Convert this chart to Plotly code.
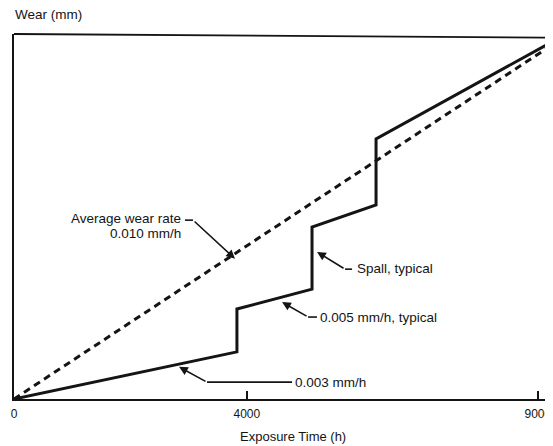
import plotly.graph_objects as go

# ---- data ----
time_h = [0, 3830, 3830, 5120, 5120, 6220, 6220, 9260]
wear_mm = [0, 12.3, 23.5, 28.7, 44.9, 50.7, 67.9, 93.4]
avg_time_h = [0, 9260]
avg_wear_mm = [0, 92.6]
x_tick_vals = [0, 4000, 9000]
x_tick_text = ["0", "4000", "9000"]

INK = "#141414"
FONT = "Liberation Sans, Arial, Helvetica, sans-serif"

# page body has an 8px default margin, so the figure is sized to fit the window
FIG_W, FIG_H = 545, 438
M_L, M_R, M_T, M_B = 6, 0, 26, 47
PLOT_W = FIG_W - M_L - M_R
PLOT_H = FIG_H - M_T - M_B

fig = go.Figure()
fig.add_trace(go.Scatter(x=avg_time_h, y=avg_wear_mm, mode="lines",
                         line=dict(color=INK, width=3, dash="7px,5px"),
                         hoverinfo="skip", showlegend=False, cliponaxis=False))
fig.add_trace(go.Scatter(x=time_h, y=wear_mm, mode="lines",
                         line=dict(color=INK, width=3),
                         hoverinfo="skip", showlegend=False, cliponaxis=False))

# leaders: bend x, bend y, tip x, tip y, text-side x
leaders = [
    (3076, 46.7, 3797, 36.6, 2938),
    (5687, 33.9, 5206, 38.4, 5808),
    (5052, 21.4, 4605, 25.3, 5206),
    (3316, 4.4, 2835, 8.4, 4777),
]
shapes = []
annotations = []
for bx, by, tx, ty, sx in leaders:
    shapes.append(dict(type="line", xref="x", yref="y", x0=sx, y0=by, x1=bx, y1=by,
                       line=dict(color=INK, width=1.6)))
    annotations.append(dict(x=tx, y=ty, ax=bx, ay=by, xref="x", yref="y",
                            axref="x", ayref="y", text="", showarrow=True,
                            arrowhead=2, arrowsize=1.1, arrowwidth=1.6, arrowcolor=INK))

labels = [
    ("Average wear rate", 2904, 47.2, "right"),
    ("0.010 mm/h", 2904, 43.3, "right"),
    ("Spall, typical", 5859, 34.2, "left"),
    ("0.005 mm/h, typical", 5223, 21.4, "left"),
    ("0.003 mm/h", 4794, 4.2, "left"),
]
for txt, x, y, anc in labels:
    annotations.append(dict(x=x, y=y, xref="x", yref="y", text=txt, showarrow=False,
                            xanchor=anc, yanchor="middle",
                            font=dict(family=FONT, size=13.5, color=INK)))

# axis titles
annotations.append(dict(x=(5 - M_L) / PLOT_W, y=(PLOT_H + M_T - 6) / PLOT_H,
                        xref="paper", yref="paper", text="Wear (mm)",
                        showarrow=False, xanchor="left", yanchor="middle",
                        font=dict(family=FONT, size=13.5, color=INK)))
annotations.append(dict(x=4800, y=0, xref="x", yref="paper", text="Exposure Time (h)",
                        showarrow=False, xanchor="center", yanchor="top", yshift=-28,
                        font=dict(family=FONT, size=13, color=INK)))

# top frame line (slightly tilted like the scan)
shapes.append(dict(type="line", xref="paper", yref="paper", x0=0, y0=1, x1=1, y1=0.99,
                   line=dict(color=INK, width=1.8)))

fig.update_layout(
    width=FIG_W, height=FIG_H,
    margin=dict(l=M_L, r=M_R, t=M_T, b=M_B),
    paper_bgcolor="white", plot_bgcolor="white",
    shapes=shapes, annotations=annotations,
    font=dict(family=FONT, color=INK),
)
fig.update_xaxes(range=[0, 9260], showgrid=False, zeroline=False,
                 showline=True, linecolor=INK, linewidth=1.8,
                 tickvals=x_tick_vals, ticktext=x_tick_text,
                 ticks="inside", ticklen=8, tickwidth=1.6, tickcolor=INK,
                 ticklabelstandoff=3,
                 tickfont=dict(family=FONT, size=12, color=INK))
fig.update_yaxes(range=[0, 95.3], showgrid=False, zeroline=False,
                 showline=True, linecolor=INK, linewidth=2.4,
                 showticklabels=False, ticks="")

fig.write_html("out.html")
